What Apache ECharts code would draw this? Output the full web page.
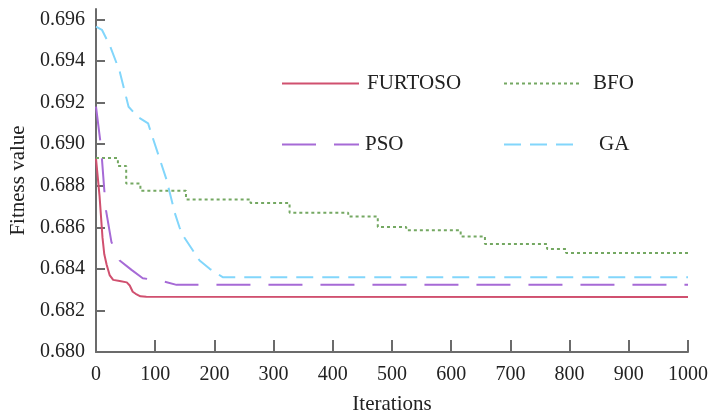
<!DOCTYPE html>
<html>
<head>
<meta charset="utf-8">
<script src="https://cdn.jsdelivr.net/npm/echarts@6/dist/echarts.min.js"></script>
<style>
  html, body { margin: 0; padding: 0; background: #fff; }
  #chart { width: 711px; height: 416px; }
</style>
</head>
<body>
<div id="chart"></div>
<script>
// iteration / fitness pairs
const furtosoX = [0, 6, 11, 14, 18, 23, 29, 40, 52, 57, 62, 67, 75, 85, 1000];
const furtosoY = [0.6893, 0.6875, 0.6855, 0.6847, 0.6842, 0.6837, 0.68347, 0.68342, 0.68335, 0.6832, 0.6829, 0.6828, 0.68268, 0.68266, 0.68265];

const bfoX = [0, 37, 51, 75, 152, 261, 327, 426, 476, 524, 616, 657, 762, 794, 1000];
const bfoY = [0.68933, 0.68895, 0.6881, 0.68776, 0.68734, 0.68717, 0.6867, 0.68652, 0.68601, 0.68586, 0.68556, 0.68519, 0.68495, 0.68476, 0.68476];

const psoX = [0, 7, 10, 14, 17, 26, 40, 60, 79, 113, 136, 1000];
const psoY = [0.6918, 0.6902, 0.6893, 0.6878, 0.6868, 0.6853, 0.6844, 0.68395, 0.68355, 0.6834, 0.68323, 0.68323];

const gaX = [0, 10, 24, 40, 55, 71, 88, 93, 119, 133, 141, 147, 175, 192, 214, 1000];
const gaY = [0.69565, 0.6955, 0.6947, 0.6935, 0.6918, 0.6913, 0.691, 0.69055, 0.6883, 0.6867, 0.686, 0.6856, 0.6844, 0.684, 0.6836, 0.6836];

const yTicks = [0.680, 0.682, 0.684, 0.686, 0.688, 0.690, 0.692, 0.694, 0.696];

const pairs = (xs, ys) => xs.map((x, i) => [x, ys[i]]);
const font = "Liberation Serif";
const axisColor = "#6b6b6b";

const chart = echarts.init(document.getElementById("chart"));

const legendItem = (name, left, top, width, pad) => ({
  data: [name],
  left: left,
  top: top,
  padding: 0,
  itemWidth: width,
  itemHeight: 14,
  selectedMode: false,
  itemStyle: { opacity: 0 },
  textStyle: { fontFamily: font, fontSize: 21, color: "#222", padding: [0, 0, 0, pad] },
});

chart.setOption({
  animation: false,
  textStyle: { fontFamily: font },
  grid: { left: 96, right: 23, top: 9, bottom: 64, containLabel: false, outerBoundsMode: "none" },
  legend: [
    legendItem("FURTOSO", 281, 73, 77, 3),
    legendItem("BFO", 503, 73, 75, 9),
    legendItem("PSO", 281, 134, 77, 1),
    legendItem("GA", 503, 134, 69, 21),
  ],
  xAxis: {
    type: "value",
    min: 0,
    max: 1000,
    interval: 100,
    name: "Iterations",
    nameLocation: "middle",
    nameGap: 42,
    nameTextStyle: { fontFamily: font, fontSize: 21, color: "#222" },
    axisLine: { lineStyle: { color: axisColor, width: 2 } },
    axisTick: { inside: true, length: 12, lineStyle: { color: axisColor, width: 2 } },
    axisLabel: { fontFamily: font, fontSize: 20, color: "#222", margin: 13, formatter: (v) => String(v) },
    splitLine: { show: false },
  },
  yAxis: {
    type: "value",
    min: 0.68,
    max: 0.6965,
    name: "Fitness value",
    nameLocation: "middle",
    nameGap: 61,
    nameTextStyle: { fontFamily: font, fontSize: 21, color: "#222" },
    axisLine: { lineStyle: { color: axisColor, width: 2 } },
    axisTick: { inside: true, length: 9, customValues: yTicks, lineStyle: { color: axisColor, width: 2 } },
    axisLabel: {
      fontFamily: font, fontSize: 20, color: "#222", margin: 11,
      customValues: yTicks,
      formatter: (v) => v.toFixed(3),
    },
    splitLine: { show: false },
  },
  series: [
    { name: "FURTOSO", data: pairs(furtosoX, furtosoY), color: "#d0506f", lineStyle: { type: "solid" } },
    { name: "BFO", data: pairs(bfoX, bfoY), step: "end", color: "#74a862", lineStyle: { type: [3, 3] } },
    { name: "PSO", data: pairs(psoX, psoY), color: "#a66ad6", lineStyle: { type: [34, 18] } },
    { name: "GA", data: pairs(gaX, gaY), color: "#82d6fb", lineStyle: { type: [17, 9] } },
  ].map((s) => ({
    ...s,
    type: "line",
    symbol: "none",
    lineStyle: { ...s.lineStyle, width: 2, cap: "butt" },
  })),
});
</script>
</body>
</html>
